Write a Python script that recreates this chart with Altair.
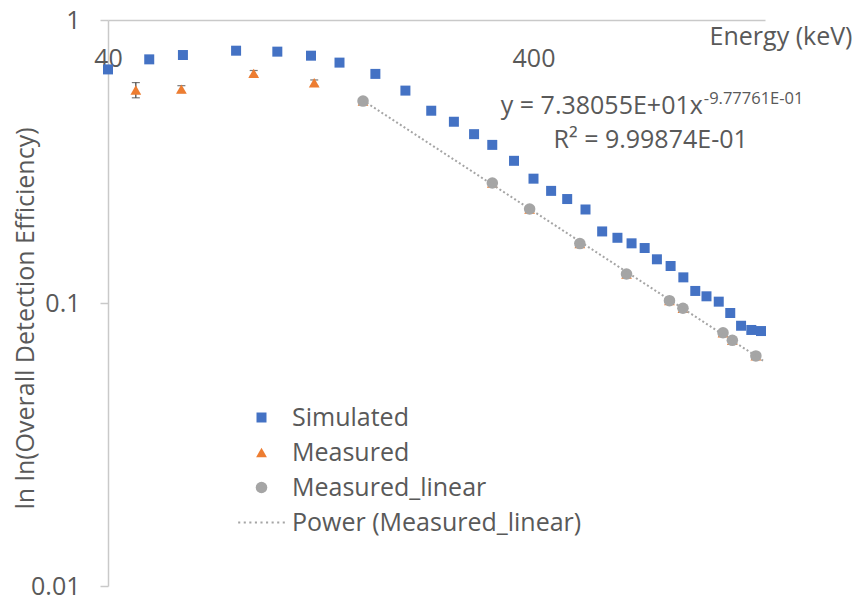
import altair as alt
import pandas as pd

# Simulated full-energy detection efficiency (keV -> efficiency)
sim_energy = [40, 50, 60, 80, 100, 120, 140, 170, 200, 230, 260, 290, 320, 360,
              400, 440, 480, 530, 580, 630, 680, 730, 780, 840, 900, 960, 1020,
              1090, 1160, 1230, 1300, 1370]
sim_eff = [0.669, 0.726, 0.752, 0.779, 0.773, 0.748, 0.707, 0.645, 0.563, 0.478,
           0.437, 0.395, 0.362, 0.318, 0.275, 0.249, 0.233, 0.214, 0.179, 0.170,
           0.1625, 0.1564, 0.1427, 0.1351, 0.1232, 0.1103, 0.1056, 0.1011, 0.0922,
           0.0831, 0.0803, 0.0796]

# Measured gamma lines of the mixed source, with their uncertainties
meas_energy = [46.5, 59.5, 88.0, 122.1, 159.0, 320.1, 391.7, 514.0, 661.7, 834.8,
               898.0, 1115.5, 1173.2, 1332.5]
meas_eff = [0.566, 0.570, 0.648, 0.600, 0.517, 0.2655, 0.2149, 0.1622, 0.1266,
            0.1019, 0.0958, 0.0785, 0.0738, 0.0650]
meas_err = [0.035, 0.016, 0.015, 0.014, 0.004, 0.002, 0.002, 0.001, 0.001, 0.001,
            0.001, 0.001, 0.001, 0.001]

# Lines above 150 keV used for the power-law fit
lin_energy = [159.0, 320.1, 391.7, 514.0, 661.7, 834.8, 898.0, 1115.5, 1173.2, 1332.5]
lin_eff = [0.517, 0.2655, 0.2149, 0.1622, 0.1266, 0.1019, 0.0958, 0.0785, 0.0738, 0.0650]

# Power-law trendline y = a * x^b and its goodness of fit
fit_a = 73.8055
fit_b = -0.977761
fit_r2 = 0.999874
fit_range = [159.0, 1400.0]

series_names = ["Simulated", "Measured", "Measured_linear", "Power (Measured_linear)"]
series_colors = ["#4472C4", "#ED7D31", "#A5A5A5", "#A5A5A5"]

FONT = "Open Sans"
TEXT = "#595959"
AXIS = "#C9C9C9"

# Dotted-line legend glyph drawn as a row of small filled dots
_dot_centers = [-3.64 + i * 0.91 for i in range(9)]
dotted_glyph = " ".join(f"M{c - 0.17:.3f},-0.16h0.34v0.32h-0.34Z" for c in _dot_centers)

points = pd.concat([
    pd.DataFrame({"energy": sim_energy, "eff": sim_eff, "series": "Simulated"}),
    pd.DataFrame({"energy": meas_energy, "eff": meas_eff, "series": "Measured"}),
    pd.DataFrame({"energy": lin_energy, "eff": lin_eff, "series": "Measured_linear"}),
], ignore_index=True)

errors = pd.DataFrame({
    "energy": meas_energy,
    "lo": [v - e for v, e in zip(meas_eff, meas_err)],
    "hi": [v + e for v, e in zip(meas_eff, meas_err)],
})

fit_df = pd.DataFrame({"energy": fit_range})

x_scale = alt.Scale(type="log", domain=[40, 1400], nice=False)
y_scale = alt.Scale(type="log", domain=[0.01, 1], nice=False)

x_axis = alt.Axis(
    orient="top", values=[40, 400], format="d", ticks=False, grid=False,
    domainColor=AXIS, domainWidth=1.5,
    labelFont=FONT, labelFontSize=25, labelColor=TEXT, labelBaseline="middle",
    labelPadding=-38, labelFlush=False, labelOverlap=False,
    title="Energy (keV)", titleFont=FONT, titleFontSize=25, titleFontWeight="normal",
    titleColor=TEXT, titleAnchor="end", titleAlign="right", titleBaseline="middle",
    titleX=744, titleY=16,
)
y_axis = alt.Axis(
    values=[0.01, 0.1, 1], format="~g", grid=False,
    domainColor=AXIS, domainWidth=1.5, tickColor=AXIS, tickWidth=1.5, tickSize=8,
    labelFont=FONT, labelFontSize=25, labelColor=TEXT, labelPadding=20,
    title="ln ln(Overall Detection Efficiency)", titleFont=FONT, titleFontSize=25,
    titleFontWeight="normal", titleColor=TEXT, titleAngle=270, titleAlign="center",
    titleBaseline="middle", titleX=-83, titleY=298,
)

legend = alt.Legend(
    title=None, orient="none", legendX=141, legendY=385, padding=0,
    labelFont=FONT, labelFontSize=25, labelColor=TEXT, labelOffset=18, labelLimit=0,
    rowPadding=9, symbolStrokeWidth=0,
)

base = alt.Chart(points)

error_bars = alt.Chart(errors).mark_errorbar(
    ticks={"size": 8, "color": "#404040"}, color="#404040", thickness=1.2
).encode(
    x=alt.X("energy:Q", scale=x_scale, axis=x_axis),
    y=alt.Y("lo:Q", scale=y_scale, axis=y_axis),
    y2="hi:Q",
)

marks = base.mark_point(filled=True, opacity=1).encode(
    x=alt.X("energy:Q", scale=x_scale, axis=x_axis),
    y=alt.Y("eff:Q", scale=y_scale, axis=y_axis),
    color=alt.Color("series:N", scale=alt.Scale(domain=series_names, range=series_colors), legend=legend),
    shape=alt.Shape("series:N", scale=alt.Scale(domain=series_names,
                    range=["square", "triangle-up", "circle", dotted_glyph]), legend=legend),
    size=alt.Size("series:N", scale=alt.Scale(domain=series_names, range=[100, 150, 85, 81]), legend=legend),
)

trend = alt.Chart(fit_df).mark_line(
    color="#A5A5A5", strokeWidth=2, strokeDash=[2, 2.4]
).transform_calculate(
    fit=f"{fit_a} * pow(datum.energy, {fit_b})"
).encode(
    x=alt.X("energy:Q", scale=x_scale, axis=x_axis),
    y=alt.Y("fit:Q", scale=y_scale, axis=y_axis),
)

# Trendline equation and R² annotation
ann = pd.DataFrame({
    "energy": [1000, 1000, 754],
    "eff": [0.467, 0.505, 0.353],
    "label": [f"y = {fit_a:.5E}x", f"{fit_b:.5E}", f"R² = {fit_r2:.5E}"],
    "kind": ["main", "sup", "r2"],
})
eq_main = alt.Chart(ann).transform_filter("datum.kind == 'main'").mark_text(
    font=FONT, fontSize=25, color=TEXT, align="right", baseline="alphabetic"
).encode(x=alt.X("energy:Q", scale=x_scale), y=alt.Y("eff:Q", scale=y_scale), text="label:N")
eq_sup = alt.Chart(ann).transform_filter("datum.kind == 'sup'").mark_text(
    font=FONT, fontSize=16.5, color=TEXT, align="left", baseline="alphabetic", dx=1
).encode(x=alt.X("energy:Q", scale=x_scale), y=alt.Y("eff:Q", scale=y_scale), text="label:N")
eq_r2 = alt.Chart(ann).transform_filter("datum.kind == 'r2'").mark_text(
    font=FONT, fontSize=25, color=TEXT, align="center", baseline="alphabetic"
).encode(x=alt.X("energy:Q", scale=x_scale), y=alt.Y("eff:Q", scale=y_scale), text="label:N")

chart = alt.layer(error_bars, marks, trend, eq_main, eq_sup, eq_r2).properties(
    width=657, height=566,
    padding={"left": 108, "top": 20, "right": 93, "bottom": 15},
    autosize=alt.AutoSizeParams(type="none"),
    background="white",
).configure_view(stroke=None)

chart.save("out.html", embed_options={"renderer": "svg", "actions": False})
